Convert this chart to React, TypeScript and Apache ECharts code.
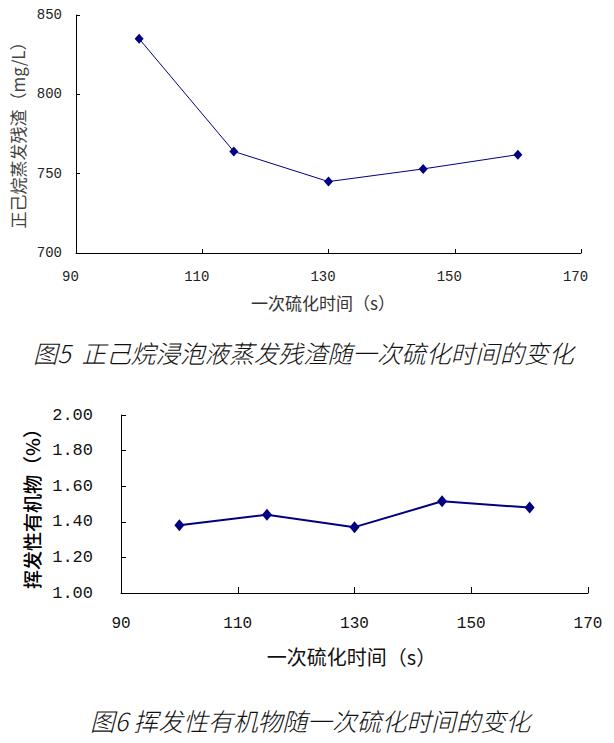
import React, { useEffect, useRef } from "react";
import * as echarts from "echarts";

const timeValues = [100, 115, 130, 145, 160];
const residueValues = [835, 764, 745, 753, 762];
const volatileValues = [1.38, 1.44, 1.37, 1.515, 1.48];

const xAxisTitle = "一次硫化时间（s）";
const topYAxisTitle = "正己烷蒸发残渣（mg/L）";
const bottomYAxisTitle = "挥发性有机物（%）";
const caption1 = "图5  正己烷浸泡液蒸发残渣随一次硫化时间的变化";
const caption2 = "图6 挥发性有机物随一次硫化时间的变化";

const NAVY = "#000080";
const CJK = "'Noto Sans CJK SC', sans-serif";
const NUM = "'Liberation Mono', monospace";

export default function App() {
  const ref = useRef<HTMLDivElement>(null);

  useEffect(() => {
    if (!ref.current) return;
    const chart = echarts.init(ref.current, null, { renderer: "svg" });
    const tickInside = (len: number) => ({
      show: true,
      inside: true,
      length: len,
      lineStyle: { color: "#000", width: 1 },
    });
    chart.setOption({
      animation: false,
      backgroundColor: "#fff",
      grid: [
        { left: 76, top: 15, width: 505, height: 238, containLabel: false },
        { left: 121, top: 415, width: 467, height: 178, containLabel: false },
      ],
      xAxis: [
        {
          type: "value",
          gridIndex: 0,
          min: 90,
          max: 170,
          interval: 20,
          axisLine: { show: true, onZero: false, lineStyle: { color: "#000", width: 1 } },
          axisTick: tickInside(4),
          splitLine: { show: false },
          axisLabel: {
            color: "#222",
            fontFamily: NUM,
            fontSize: 14,
            margin: 17,
            padding: [0, 11, 0, 0],
          },
          name: xAxisTitle,
          nameLocation: "middle",
          nameGap: 41,
          nameTextStyle: { color: "#333", fontFamily: CJK, fontSize: 17, padding: [0, 11, 0, 0] },
        },
        {
          type: "value",
          gridIndex: 1,
          min: 90,
          max: 170,
          interval: 20,
          axisLine: { show: true, onZero: false, lineStyle: { color: "#000", width: 1 } },
          axisTick: tickInside(6),
          splitLine: { show: false },
          axisLabel: {
            color: "#111",
            fontFamily: NUM,
            fontSize: 16,
            margin: 23,
          },
          name: xAxisTitle,
          nameLocation: "middle",
          nameGap: 53,
          nameTextStyle: { color: "#111", fontFamily: CJK, fontSize: 20, padding: [0, 6, 0, 0] },
        },
      ],
      yAxis: [
        {
          type: "value",
          gridIndex: 0,
          min: 700,
          max: 850,
          interval: 50,
          axisLine: { show: true, lineStyle: { color: "#000", width: 1 } },
          axisTick: tickInside(4),
          splitLine: { show: false },
          axisLabel: {
            color: "#222",
            fontFamily: NUM,
            fontSize: 14,
            margin: 14,
          },
          name: topYAxisTitle,
          nameLocation: "middle",
          nameRotate: 90,
          nameGap: 48,
          nameTextStyle: { color: "#444", fontFamily: CJK, fontSize: 17, padding: [0, 0, 0, 6] },
        },
        {
          type: "value",
          gridIndex: 1,
          min: 1,
          max: 2,
          interval: 0.2,
          axisLine: { show: true, lineStyle: { color: "#000", width: 1 } },
          axisTick: tickInside(5),
          splitLine: { show: false },
          axisLabel: {
            color: "#111",
            fontFamily: NUM,
            fontSize: 17,
            margin: 28,
            formatter: (v: number) => v.toFixed(2),
          },
          name: bottomYAxisTitle,
          nameLocation: "middle",
          nameRotate: 90,
          nameGap: 79,
          nameTextStyle: { color: "#000", fontFamily: CJK, fontSize: 19, fontWeight: 500 },
        },
      ],
      series: [
        {
          type: "line",
          xAxisIndex: 0,
          yAxisIndex: 0,
          data: timeValues.map((t, i) => [t, residueValues[i]]),
          symbol: "diamond",
          symbolSize: [9, 10],
          lineStyle: { color: NAVY, width: 1 },
          itemStyle: { color: NAVY },
        },
        {
          type: "line",
          xAxisIndex: 1,
          yAxisIndex: 1,
          data: timeValues.map((t, i) => [t, volatileValues[i]]),
          symbol: "diamond",
          symbolSize: [10, 12],
          lineStyle: { color: NAVY, width: 2 },
          itemStyle: { color: NAVY },
        },
      ],
      graphic: [
        {
          type: "text",
          left: 33,
          top: 340,
          style: {
            text: caption1,
            fontFamily: CJK,
            fontSize: 24.6,
            fontStyle: "italic",
            fontWeight: 300,
            fill: "#111",
          },
        },
        {
          type: "text",
          left: 90,
          top: 708,
          style: {
            text: caption2,
            fontFamily: CJK,
            fontSize: 24.8,
            fontStyle: "italic",
            fontWeight: 300,
            fill: "#111",
          },
        },
      ],
    });
    return () => chart.dispose();
  }, []);

  return (
    <div
      ref={ref}
      style={{ position: "absolute", left: 0, top: 0, width: 614, height: 743, background: "#fff" }}
    />
  );
}
